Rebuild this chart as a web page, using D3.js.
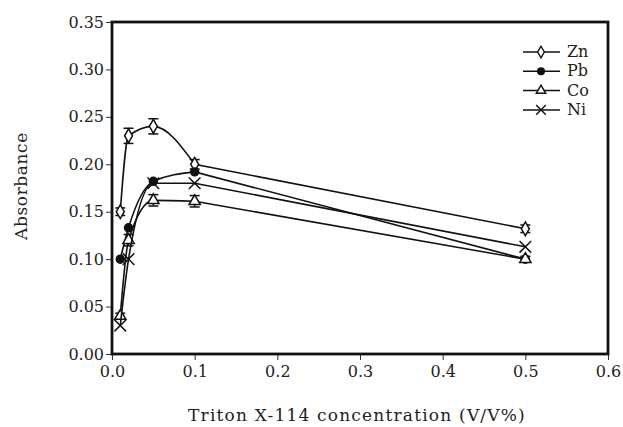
<!DOCTYPE html>
<html>
<head>
<meta charset="utf-8">
<script src="https://cdnjs.cloudflare.com/ajax/libs/d3/7.8.5/d3.min.js"></script>
<style>
  body { margin: 0; background: #fff; }
  text { font-family: "DejaVu Serif", "Liberation Serif", serif; fill: #222; }
</style>
</head>
<body>
<div id="chart"></div>
<script>
// data
var conc = [0.01, 0.02, 0.05, 0.1, 0.5];
var zn = [0.15, 0.23, 0.24, 0.20, 0.132];
var znErr = [0.004, 0.008, 0.008, 0.005, 0.004];
var pb = [0.10, 0.133, 0.182, 0.192, 0.10];
var co = [0.04, 0.12, 0.162, 0.161, 0.10];
var coErr = [0.003, 0.006, 0.006, 0.006, 0.003];
var ni = [0.03, 0.10, 0.18, 0.18, 0.113];
var xTicks = [0.0, 0.1, 0.2, 0.3, 0.4, 0.5, 0.6];
var yTicks = [0.00, 0.05, 0.10, 0.15, 0.20, 0.25, 0.30, 0.35];

var width = 623, height = 427;
var margin = { left: 112, right: 15, top: 22, bottom: 73 };

var svg = d3.select("#chart").append("svg")
  .attr("width", width).attr("height", height);

var x = d3.scaleLinear().domain([0, 0.6]).range([margin.left, width - margin.right]);
var y = d3.scaleLinear().domain([0, 0.35]).range([height - margin.bottom, margin.top]);

// axes
var xAxis = svg.append("g")
  .attr("transform", "translate(0," + y(0) + ")")
  .call(d3.axisBottom(x).tickValues(xTicks).tickFormat(d3.format(".1f")).tickSize(6).tickPadding(6));
var yAxis = svg.append("g")
  .attr("transform", "translate(" + x(0) + ",0)")
  .call(d3.axisLeft(y).tickValues(yTicks).tickFormat(d3.format(".2f")).tickSize(6).tickPadding(2));
[xAxis, yAxis].forEach(function (a) {
  a.select(".domain").remove();
  a.selectAll("text").style("font-size", "16px").attr("fill", "#444");
  a.selectAll("line").attr("stroke", "#333");
});

// frame
svg.append("rect")
  .attr("x", x(0)).attr("y", y(0.35))
  .attr("width", x(0.6) - x(0)).attr("height", y(0) - y(0.35))
  .attr("fill", "none").attr("stroke", "#111").attr("stroke-width", 2.8);

// labels
svg.append("text")
  .attr("transform", "translate(27,186) rotate(-90)")
  .attr("text-anchor", "middle").style("font-size", "17px")
  .style("letter-spacing", "0.6px")
  .text("Absorbance");
svg.append("text")
  .attr("x", 357).attr("y", 421)
  .attr("text-anchor", "middle").style("font-size", "17px")
  .style("letter-spacing", "1.2px")
  .text("Triton X-114 concentration (V/V%)");

var smooth = d3.line()
  .x(function (d) { return x(d[0]); })
  .y(function (d) { return y(d[1]); })
  .curve(d3.curveMonotoneX);
var straight = d3.line()
  .x(function (d) { return x(d[0]); })
  .y(function (d) { return y(d[1]); });

var series = [
  { name: "Zn", vals: zn, err: znErr, sym: d3.symbolDiamond, fill: "#fff", size: 55 },
  { name: "Pb", vals: pb, err: null, sym: d3.symbolCircle, fill: "#111", size: 50 },
  { name: "Co", vals: co, err: coErr, sym: d3.symbolTriangle, fill: "#fff", size: 55 },
  { name: "Ni", vals: ni, err: null, sym: d3.symbolX, fill: "none", size: 90 }
];

var plot = svg.append("g");

series.forEach(function (s) {
  var pts = conc.map(function (c, i) { return [c, s.vals[i]]; });
  // smooth through the low concentrations, then a plain run to the last point
  plot.append("path")
    .attr("d", smooth(pts.slice(0, 4)) + straight(pts.slice(3)).replace("M", "L"))
    .attr("fill", "none")
    .attr("stroke", "#111")
    .attr("stroke-width", 1.6);

  if (s.err) {
    conc.forEach(function (c, i) {
      var e = s.err[i];
      var g = plot.append("g").attr("stroke", "#111").attr("stroke-width", 1.5);
      g.append("line").attr("x1", x(c)).attr("x2", x(c))
        .attr("y1", y(s.vals[i] - e)).attr("y2", y(s.vals[i] + e));
      [s.vals[i] - e, s.vals[i] + e].forEach(function (v) {
        g.append("line").attr("x1", x(c) - 5).attr("x2", x(c) + 5)
          .attr("y1", y(v)).attr("y2", y(v));
      });
    });
  }

  plot.selectAll(null)
    .data(pts)
    .enter().append("path")
    .attr("transform", function (d) { return "translate(" + x(d[0]) + "," + y(d[1]) + ")"; })
    .attr("d", d3.symbol().type(s.sym).size(s.size))
    .attr("fill", s.fill)
    .attr("stroke", "#111")
    .attr("stroke-width", 1.5);
});

// legend
var legend = svg.append("g");
series.forEach(function (s, i) {
  var ly = 52 + i * 19.3;
  legend.append("line")
    .attr("x1", 523).attr("x2", 560).attr("y1", ly).attr("y2", ly)
    .attr("stroke", "#111").attr("stroke-width", 1.5);
  legend.append("path")
    .attr("transform", "translate(541," + ly + ")")
    .attr("d", d3.symbol().type(s.sym).size(s.size * 0.7))
    .attr("fill", s.fill)
    .attr("stroke", "#111").attr("stroke-width", 1.4);
  legend.append("text")
    .attr("x", 567).attr("y", ly + 5)
    .style("font-size", "16px")
    .text(s.name);
});
</script>
</body>
</html>
